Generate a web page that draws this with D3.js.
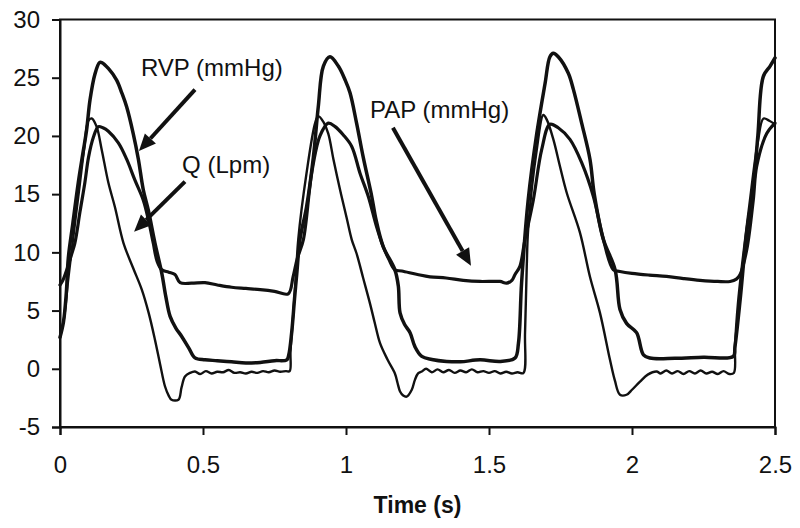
<!DOCTYPE html>
<html>
<head>
<meta charset="utf-8">
<script src="https://cdn.jsdelivr.net/npm/d3@7"></script>
<style>
  html, body { margin: 0; padding: 0; background: #fff; }
  svg { display: block; font-family: "Liberation Sans", Arial, sans-serif; }
</style>
</head>
<body>
<svg id="chart" width="800" height="528"></svg>
<script>
// ---- data (time in s, value) ----
const xTicks = [0, 0.5, 1, 1.5, 2, 2.5];
const xTickLabels = ["0", "0.5", "1", "1.5", "2", "2.5"];
const yTicks = [-5, 0, 5, 10, 15, 20, 25, 30];
const yTickLabels = ["-5", "0", "5", "10", "15", "20", "25", "30"];
const xTitle = "Time (s)";

const rvp = [
  [0, 2.7], [0.012, 4.0], [0.022, 6.5], [0.029, 9.5], [0.045, 12.5], [0.064, 16.0], [0.08, 18.5],
  [0.093, 20.5], [0.105, 23.1], [0.122, 25.3], [0.138, 26.3], [0.146, 26.3], [0.169, 25.8],
  [0.198, 24.8], [0.216, 23.7], [0.233, 22.5], [0.256, 20.2], [0.274, 18.0], [0.291, 15.4],
  [0.309, 13.6], [0.332, 10.8], [0.356, 8.2], [0.37, 6.2], [0.385, 4.5], [0.405, 3.5], [0.425, 2.8],
  [0.45, 1.8], [0.472, 0.94], [0.507, 0.77], [0.55, 0.7], [0.6, 0.6], [0.65, 0.5], [0.7, 0.55],
  [0.75, 0.7], [0.793, 0.77], [0.80, 1.2], [0.81, 3.1], [0.82, 6.0], [0.828, 8.2], [0.839, 11.1],
  [0.862, 13.9], [0.886, 18.2], [0.903, 22.5], [0.921, 26.0], [0.944, 26.8], [0.973, 26.0],
  [0.997, 24.8], [1.014, 23.7], [1.037, 21.1], [1.06, 18.2], [1.09, 14.8], [1.105, 12.8],
  [1.13, 10.5], [1.171, 8.5], [1.183, 7.1], [1.189, 4.8], [1.205, 3.8], [1.224, 3.1], [1.241, 1.9],
  [1.265, 1.06], [1.3, 0.8], [1.352, 0.63], [1.4, 0.6], [1.469, 0.77], [1.54, 0.63], [1.591, 0.92],
  [1.603, 2.2], [1.614, 7.4], [1.637, 14.5], [1.667, 20.2], [1.696, 24.5], [1.713, 26.8],
  [1.725, 27.1], [1.742, 26.8], [1.777, 25.4], [1.795, 24.0], [1.824, 21.1], [1.853, 18.0],
  [1.868, 15.0], [1.9, 11.1], [1.941, 8.5], [1.958, 5.1], [1.981, 3.9], [2.016, 3.1], [2.04, 1.2],
  [2.063, 0.92], [2.15, 0.9], [2.25, 1.0], [2.354, 1.06], [2.36, 1.9], [2.378, 5.9], [2.401, 11.7],
  [2.424, 15.5], [2.44, 20.0], [2.459, 25.1], [2.483, 26.0], [2.5, 26.7]
];

const pap = [
  [0, 7.2], [0.01, 7.6], [0.025, 8.6], [0.04, 9.8], [0.052, 10.8], [0.07, 13.5], [0.087, 16.0],
  [0.1, 18.2], [0.117, 19.9], [0.134, 20.8], [0.15, 20.7], [0.169, 20.4], [0.204, 19.4],
  [0.233, 18.0], [0.262, 16.2], [0.291, 14.5], [0.309, 12.8], [0.326, 10.8], [0.34, 9.2],
  [0.356, 8.5], [0.38, 8.3], [0.402, 8.1], [0.42, 7.4], [0.46, 7.35], [0.507, 7.4], [0.55, 7.2],
  [0.6, 7.0], [0.65, 6.9], [0.7, 6.8], [0.75, 6.65], [0.798, 6.44], [0.815, 7.9], [0.83, 9.5],
  [0.851, 11.1], [0.88, 16.8], [0.909, 20.0], [0.938, 21.1], [0.962, 20.8], [0.99, 20.1],
  [1.02, 19.1], [1.049, 16.8], [1.078, 14.8], [1.107, 12.2], [1.13, 10.5], [1.15, 9.4],
  [1.171, 8.5], [1.195, 8.4], [1.25, 8.1], [1.294, 7.9], [1.35, 7.8], [1.41, 7.6], [1.469, 7.5],
  [1.538, 7.5], [1.562, 7.36], [1.58, 7.6], [1.591, 8.1], [1.608, 8.8], [1.625, 11.0],
  [1.655, 14.5], [1.684, 18.8], [1.713, 21.0], [1.742, 20.7], [1.783, 19.7], [1.824, 17.7],
  [1.865, 14.8], [1.9, 11.1], [1.935, 8.5], [1.958, 8.36], [2.0, 8.2], [2.06, 8.05], [2.121, 7.93],
  [2.18, 7.75], [2.238, 7.6], [2.3, 7.5], [2.343, 7.5], [2.365, 7.7], [2.378, 8.1], [2.401, 10.2],
  [2.424, 14.5], [2.436, 17.4], [2.471, 20.2], [2.5, 21.1]
];

const q = [
  [0, 2.7], [0.015, 4.5], [0.028, 7.5], [0.041, 10.2], [0.07, 16.0], [0.085, 19.0], [0.099, 21.3],
  [0.111, 21.5], [0.128, 20.8], [0.146, 18.8], [0.169, 16.0], [0.192, 13.9], [0.222, 10.8],
  [0.255, 8.7], [0.286, 6.8], [0.31, 4.8], [0.332, 2.5], [0.35, 0.4], [0.367, -1.5], [0.38, -2.3],
  [0.39, -2.66], [0.414, -2.66], [0.425, -1.6], [0.437, -0.66], [0.455, -0.35], [0.472, -0.23],
  [0.49, -0.45], [0.51, -0.2], [0.53, -0.4], [0.55, -0.25], [0.57, -0.3], [0.59, -0.1],
  [0.61, -0.35], [0.63, -0.3], [0.65, -0.4], [0.67, -0.25], [0.69, -0.35], [0.71, -0.2],
  [0.73, -0.3], [0.75, -0.15], [0.77, -0.25], [0.79, -0.2], [0.803, -0.2], [0.806, 1.5],
  [0.815, 4.5], [0.825, 8.0], [0.833, 11.1], [0.862, 16.8], [0.892, 21.1], [0.903, 21.7],
  [0.921, 21.2], [0.938, 20.2], [0.956, 18.0], [0.979, 15.4], [1.002, 13.0], [1.02, 11.1],
  [1.037, 9.9], [1.06, 7.8], [1.084, 5.6], [1.1, 4.0], [1.119, 2.2], [1.145, 0.8], [1.171, -0.4],
  [1.18, -1.2], [1.189, -1.95], [1.2, -2.3], [1.212, -2.4], [1.23, -1.8], [1.241, -0.95],
  [1.252, -0.4], [1.265, -0.23], [1.28, 0.0], [1.30, -0.3], [1.32, -0.05], [1.34, -0.3],
  [1.36, -0.1], [1.38, -0.35], [1.40, -0.15], [1.42, -0.3], [1.44, -0.05], [1.46, -0.3],
  [1.48, -0.2], [1.50, -0.35], [1.52, -0.2], [1.54, -0.4], [1.56, -0.25], [1.58, -0.4],
  [1.60, -0.3], [1.62, -0.37], [1.626, 3.1], [1.632, 8.8], [1.637, 12.0], [1.667, 18.8],
  [1.69, 21.8], [1.702, 21.4], [1.725, 19.7], [1.748, 17.4], [1.772, 15.1], [1.818, 11.7],
  [1.853, 7.9], [1.888, 4.8], [1.923, 0.77], [1.94, -1.0], [1.958, -2.23], [1.981, -2.23],
  [2.0, -1.8], [2.028, -1.1], [2.055, -0.5], [2.086, -0.23], [2.10, -0.4], [2.12, -0.15],
  [2.14, -0.4], [2.16, -0.2], [2.18, -0.45], [2.20, -0.2], [2.22, -0.4], [2.24, -0.15],
  [2.26, -0.4], [2.28, -0.25], [2.30, -0.45], [2.32, -0.2], [2.34, -0.45], [2.356, -0.37],
  [2.36, 2.0], [2.37, 5.5], [2.385, 9.0], [2.41, 14.0], [2.44, 19.5], [2.46, 21.5], [2.48, 21.3],
  [2.5, 21.0]
];

// annotations: label text, label anchor (data coords), arrow from -> to (data coords)
const annotations = [
  { text: "RVP (mmHg)", at: [0.283, 25.17], from: [0.472, 23.97], to: [0.276, 18.7] },
  { text: "Q (Lpm)", at: [0.427, 16.84], from: [0.437, 16.07], to: [0.259, 11.77] },
  { text: "PAP (mmHg)", at: [1.084, 21.56], from: [1.164, 20.7], to: [1.437, 8.85] }
];

// ---- drawing ----
const svg = d3.select("#chart");
const x = d3.scaleLinear().domain([0, 2.5]).range([60, 775]);
const y = d3.scaleLinear().domain([-5, 30]).range([427, 19.5]);
const ink = "#111";

const line = d3.line()
  .x(d => x(d[0])).y(d => y(d[1]))
  .curve(d3.curveCatmullRom.alpha(0.5));

// frame
svg.append("rect")
  .attr("x", x(0)).attr("y", y(30))
  .attr("width", x(2.5) - x(0)).attr("height", y(-5) - y(30))
  .attr("fill", "none").attr("stroke", ink).attr("stroke-width", 2);

// axes
const yAxis = d3.axisLeft(y).tickValues(yTicks)
  .tickFormat((d, i) => yTickLabels[i]).tickSize(8).tickPadding(12);
const gy = svg.append("g").attr("transform", `translate(${x(0)},0)`).call(yAxis);
const xAxis = d3.axisBottom(x).tickValues(xTicks)
  .tickFormat((d, i) => xTickLabels[i]).tickSize(8).tickPadding(21);
const gx = svg.append("g").attr("transform", `translate(0,${y(-5)})`).call(xAxis);
[gx, gy].forEach(g => {
  g.select(".domain").attr("stroke", ink).attr("stroke-width", 2);
  g.selectAll(".tick line").attr("stroke", ink).attr("stroke-width", 2);
  g.selectAll(".tick text").attr("fill", ink)
    .style("font-size", "24px").style("font-family", '"Liberation Sans", Arial, sans-serif');
});

svg.append("text")
  .attr("x", (x(0) + x(2.5)) / 2).attr("y", 513)
  .attr("text-anchor", "middle")
  .style("font-size", "23px").style("font-weight", "bold")
  .attr("fill", ink).text(xTitle);

// series
const series = [
  { data: pap, w: 3.2 },
  { data: rvp, w: 3.5 },
  { data: q, w: 2.4 }
];
series.forEach(s => {
  svg.append("path").datum(s.data)
    .attr("d", line)
    .attr("fill", "none").attr("stroke", ink)
    .attr("stroke-width", s.w).attr("stroke-linejoin", "round").attr("stroke-linecap", "round");
});

// annotations
annotations.forEach(a => {
  svg.append("text")
    .attr("x", x(a.at[0])).attr("y", y(a.at[1]))
    .style("font-size", "24px").attr("fill", ink).text(a.text);
  const x1 = x(a.from[0]), y1 = y(a.from[1]), x2 = x(a.to[0]), y2 = y(a.to[1]);
  const ang = Math.atan2(y2 - y1, x2 - x1);
  const L = 17, W = 7.5;
  const bx = x2 - L * Math.cos(ang), by = y2 - L * Math.sin(ang);
  svg.append("line")
    .attr("x1", x1).attr("y1", y1).attr("x2", bx).attr("y2", by)
    .attr("stroke", ink).attr("stroke-width", 4);
  const px = -Math.sin(ang), py = Math.cos(ang);
  svg.append("path")
    .attr("d", `M${x2},${y2}L${bx + px * W},${by + py * W}L${bx - px * W},${by - py * W}Z`)
    .attr("fill", ink);
});
</script>
</body>
</html>
